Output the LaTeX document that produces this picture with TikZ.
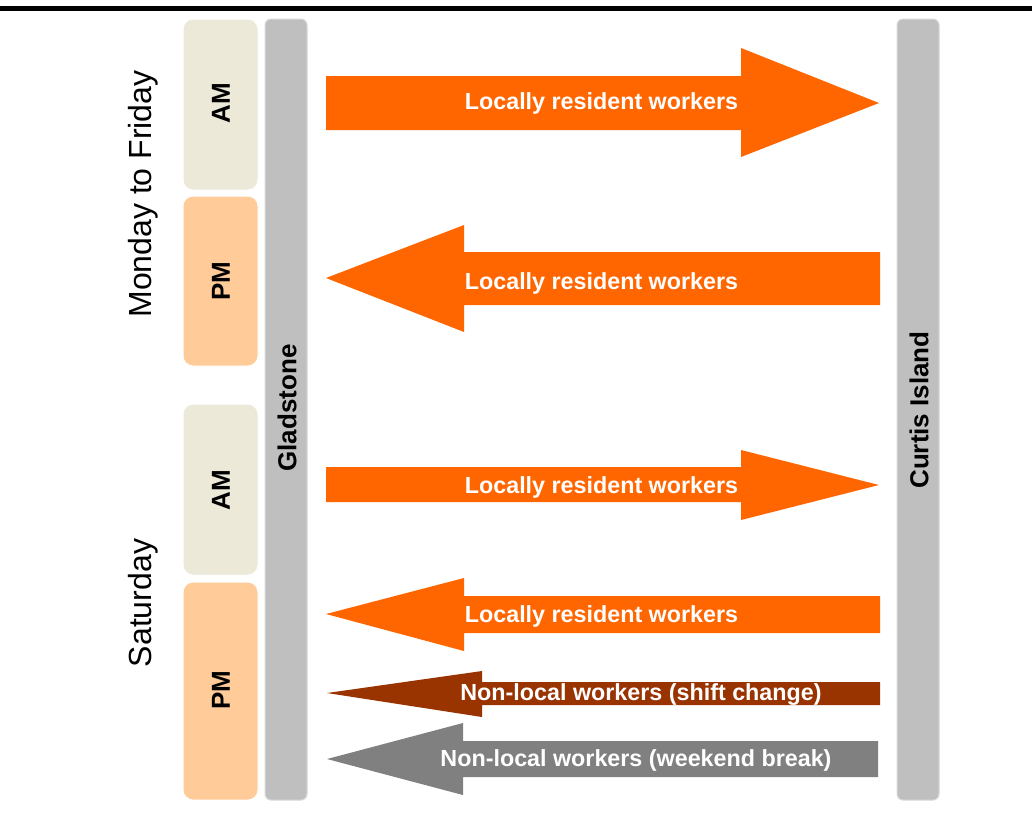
\documentclass[tikz,border=0pt]{standalone}
\usepackage{fontspec}
\setmainfont{Liberation Sans}
\definecolor{bargray}{HTML}{BFBFBF}
\definecolor{barline}{HTML}{D9D9D9}
\definecolor{amfill}{HTML}{ECE9D8}
\definecolor{pmfill}{HTML}{FFCC99}
\definecolor{flowlocal}{HTML}{FF6600}
\definecolor{flowshift}{HTML}{993300}
\definecolor{flowweekend}{HTML}{808080}
\begin{document}
\begin{tikzpicture}[x=1pt,y=-1pt,
  bar/.style={fill=bargray, draw=barline, line width=1pt, rounded corners=6pt},
  period/.style={draw=white, line width=1pt, rounded corners=10pt},
  vlabel/.style={rotate=90, font=\fontsize{26}{30}\selectfont\bfseries, text=black},
  daylabel/.style={rotate=90, font=\fontsize{32}{37}\selectfont, text=black},
  flowtext/.style={font=\fontsize{23.3}{27}\selectfont\bfseries, text=white, inner sep=0pt}
]
\useasboundingbox (0,0) rectangle (1032,812);
\fill[white] (0,0) rectangle (1032,812);

% heading rule
\fill[black] (0,6) rectangle (1032,10.5);

% time-of-day blocks
\draw[period, fill=amfill] (183,19) rectangle (258,190);
\draw[period, fill=pmfill] (183,196) rectangle (258,366);
\draw[period, fill=amfill] (183,404) rectangle (258,575);
\draw[period, fill=pmfill] (183,582) rectangle (258,800);
\node[vlabel] (am1) at (221,103) {AM};
\node[vlabel] (pm1) at (221,281) {PM};
\node[vlabel] (am2) at (221,490) {AM};
\node[vlabel] (pm2) at (221,690) {PM};

% day groups
\node[daylabel] (weekdays) at (143,194) {Monday to Friday};
\node[daylabel] (saturday) at (143,603) {Saturday};

% locations
\draw[bar] (265,19) rectangle (307,800);
\draw[bar] (897,19) rectangle (939,800);
\node[vlabel] (gladstone) at (287,408) {Gladstone};
\node[vlabel] (curtis) at (919,410) {Curtis Island};

% worker flows
\fill[flowlocal] (326,76) -- (741,76) -- (741,48) -- (879,103) -- (741,157) -- (741,130) -- (326,130) -- cycle;
\node[flowtext] (f1) at (601.5,103) {Locally resident workers};

\fill[flowlocal] (880,252) -- (464,252) -- (464,225) -- (326,278) -- (464,332) -- (464,305) -- (880,305) -- cycle;
\node[flowtext] (f2) at (601.5,283) {Locally resident workers};

\fill[flowlocal] (326,467) -- (741,467) -- (741,450) -- (879,485) -- (741,520) -- (741,502) -- (326,502) -- cycle;
\node[flowtext] (f3) at (601.5,487) {Locally resident workers};

\fill[flowlocal] (880,596) -- (464,596) -- (464,578) -- (326,614) -- (464,651) -- (464,633) -- (880,633) -- cycle;
\node[flowtext] (f4) at (601.5,616) {Locally resident workers};

\fill[flowshift] (880,682) -- (482,682) -- (482,671) -- (327,693) -- (482,717) -- (482,705) -- (880,705) -- cycle;
\node[flowtext] (f5) at (641,695) {Non-local workers (shift change)};

\fill[flowweekend] (878,741) -- (463,741) -- (463,723) -- (327,759) -- (463,795) -- (463,777) -- (878,777) -- cycle;
\node[flowtext] (f6) at (636,760) {Non-local workers (weekend break)};
\end{tikzpicture}
\end{document}
